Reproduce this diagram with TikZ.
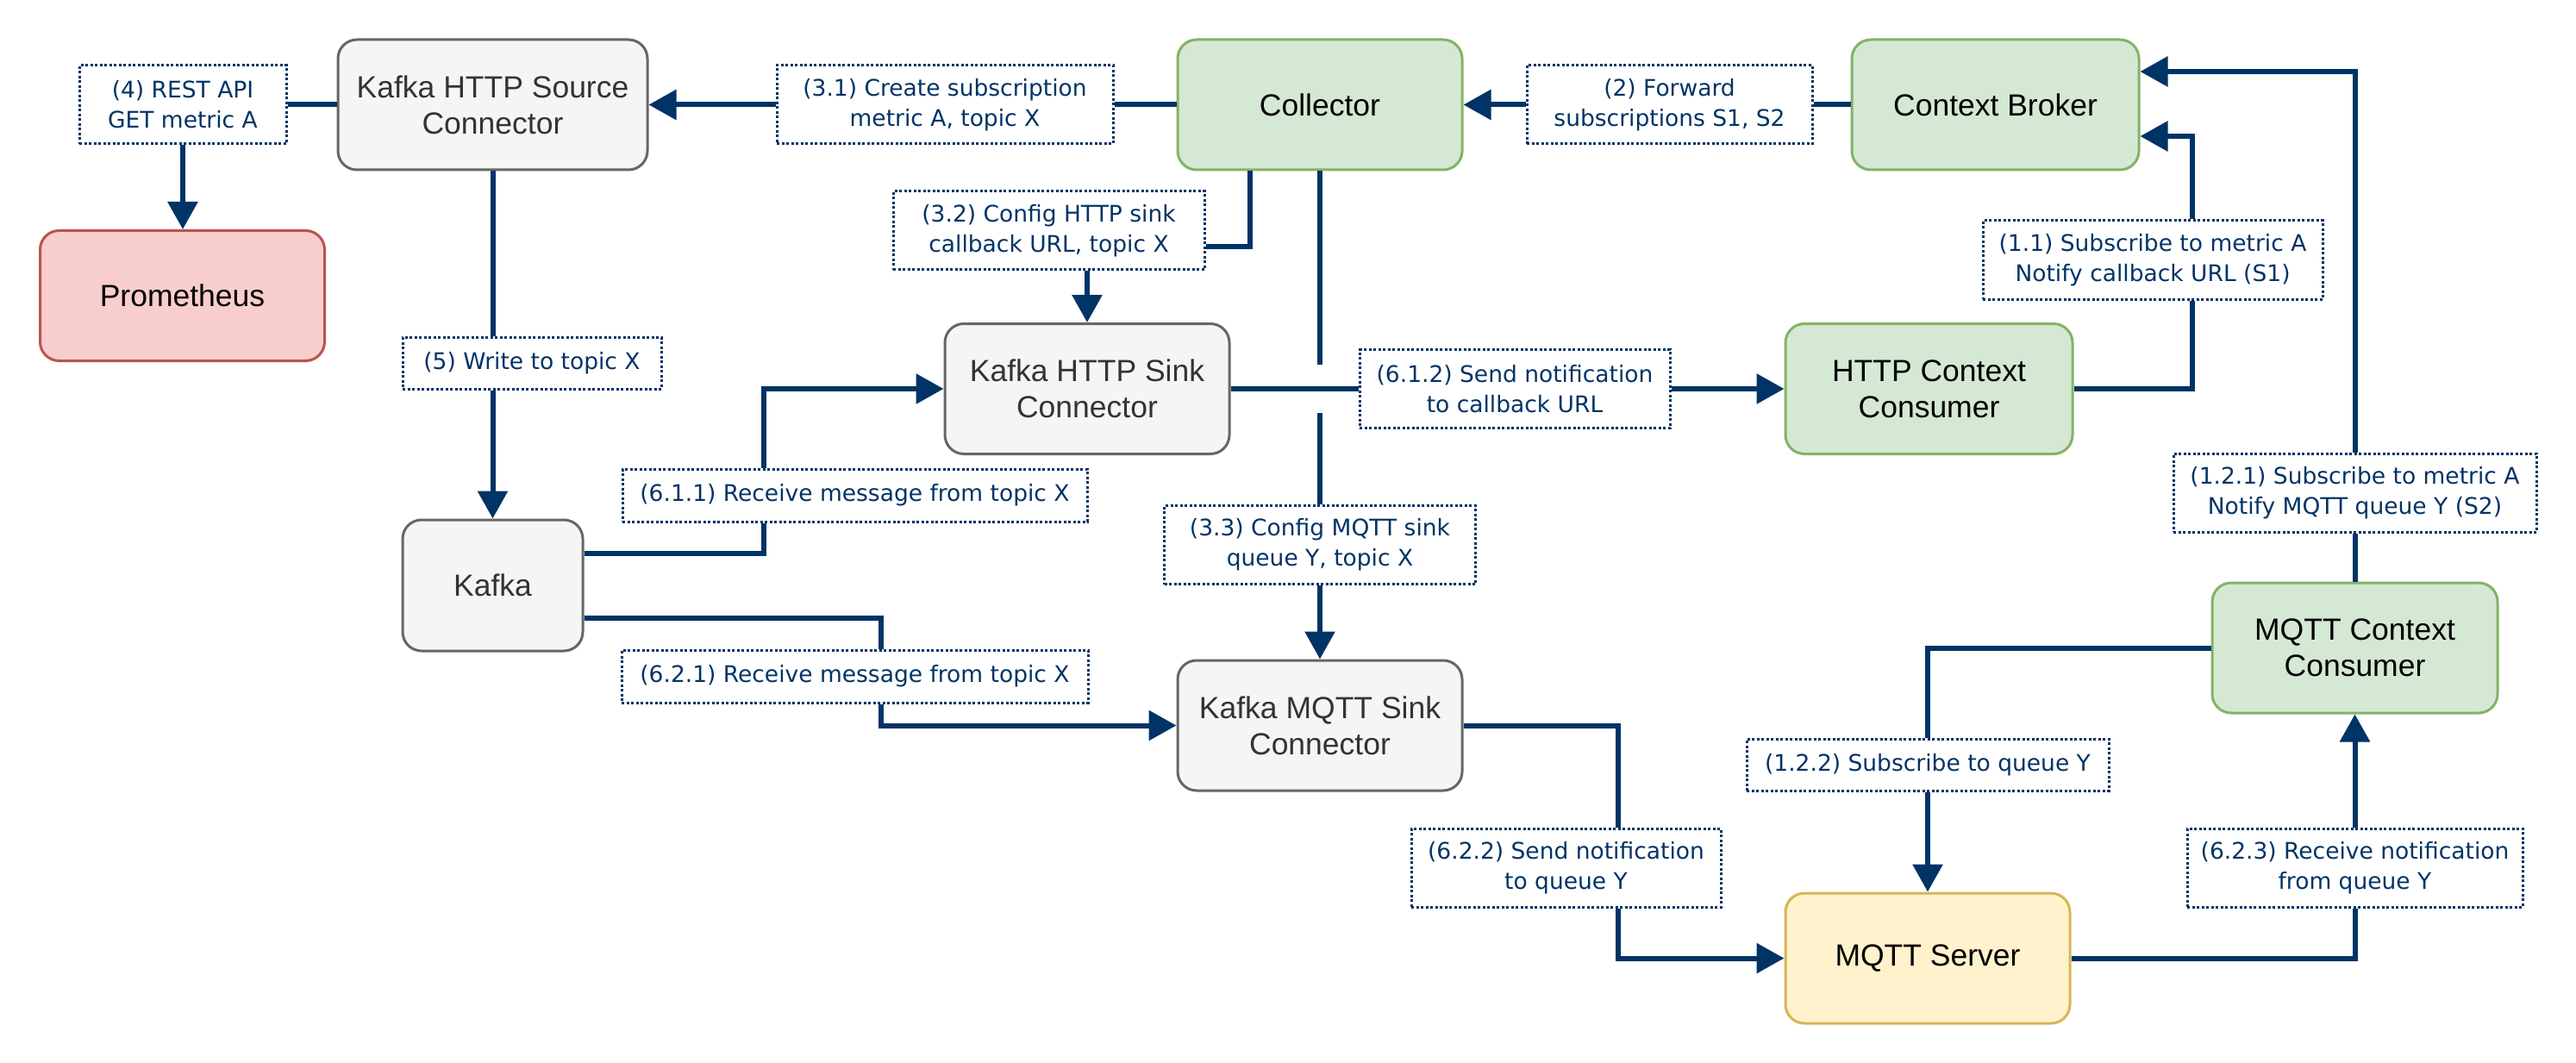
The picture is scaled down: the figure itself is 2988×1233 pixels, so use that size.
\documentclass[tikz,border=0pt]{standalone}
\usepackage{fontspec}
\setmainfont{Liberation Sans}
\newfontfamily\lblfont{DejaVu Sans}
\usetikzlibrary{arrows.meta}
\definecolor{navy}{HTML}{003366}
\definecolor{grayfill}{HTML}{F5F5F5}
\definecolor{graydraw}{HTML}{666666}
\definecolor{graytext}{HTML}{333333}
\definecolor{greenfill}{HTML}{D5E8D4}
\definecolor{greendraw}{HTML}{82B366}
\definecolor{redfill}{HTML}{F8CECC}
\definecolor{reddraw}{HTML}{B85450}
\definecolor{yelfill}{HTML}{FFF2CC}
\definecolor{yeldraw}{HTML}{D6B656}
\begin{document}
\begin{tikzpicture}[x=1pt,y=-1pt,
 box/.style={rectangle, rounded corners=22pt, line width=3pt, minimum width=330pt, minimum height=151pt, align=center, inner sep=0pt, font=\fontsize{35.5}{42}\selectfont},
 graybox/.style={box, fill=grayfill, draw=graydraw, text=graytext},
 greenbox/.style={box, fill=greenfill, draw=greendraw, text=black},
 redbox/.style={box, fill=redfill, draw=reddraw, text=black},
 yelbox/.style={box, fill=yelfill, draw=yeldraw, text=black},
 lbl/.style={rectangle, draw=navy, fill=white, line width=3pt, dash pattern=on 3pt off 2.5pt, text=navy, align=center, inner sep=0pt, minimum height=61pt, font=\lblfont\fontsize{26.5}{35}\selectfont},
 lbltwo/.style={lbl, minimum height=91pt},
 conn/.style={draw=navy, line width=6pt},
 arr/.style={conn, -{Triangle[length=32pt,width=34pt]}}
]
\useasboundingbox (0,0) rectangle (2988,1233);

% main boxes
\node[graybox, minimum width=359pt] (src) at (571.5,121.5) {Kafka HTTP Source\\Connector};
\node[redbox] (prom) at (211.5,343) {Prometheus};
\node[greenbox] (coll) at (1531,121.5) {Collector};
\node[greenbox, minimum width=333pt] (broker) at (2314.5,121.5) {Context Broker};
\node[graybox] (sink) at (1261,451) {Kafka HTTP Sink\\Connector};
\node[greenbox, minimum width=333pt] (hcons) at (2237.5,451) {HTTP Context\\Consumer};
\node[graybox, minimum width=209pt, minimum height=152pt] (kafka) at (571.5,679) {Kafka};
\node[graybox] (msink) at (1531,841.5) {Kafka MQTT Sink\\Connector};
\node[greenbox, minimum width=331pt] (mcons) at (2731.5,751.5) {MQTT Context\\Consumer};
\node[yelbox] (mserv) at (2236,1111.5) {MQTT Server};

% labels
\node[lbltwo, minimum width=240pt] (L4) at (212,121.5) {(4) REST API\\GET metric A};
\node[lbltwo, minimum width=390pt] (L31) at (1096,121.5) {(3.1) Create subscription\\metric A, topic X};
\node[lbltwo, minimum width=331pt] (L2) at (1936.5,121.5) {(2) Forward\\subscriptions S1, S2};
\node[lbltwo, minimum width=361pt] (L32) at (1216.5,267.5) {(3.2) Config HTTP sink\\callback URL, topic X};
\node[lbltwo, minimum width=394pt] (L11) at (2497,301.5) {(1.1) Subscribe to metric A\\Notify callback URL (S1)};
\node[lbl, minimum width=300pt, minimum height=60pt] (L5) at (617,421) {(5) Write to topic X};
\node[lbltwo, minimum width=360pt] (L612) at (1757,451) {(6.1.2) Send notification\\to callback URL};
\node[lbl, minimum width=539pt] (L611) at (991.5,574.5) {(6.1.1) Receive message from topic X};
\node[lbltwo, minimum width=361pt] (L33) at (1531,632) {(3.3) Config MQTT sink\\queue Y, topic X};
\node[lbltwo, minimum width=421pt] (L121) at (2731.5,571.5) {(1.2.1) Subscribe to metric A\\Notify MQTT queue Y (S2)};
\node[lbl, minimum width=541pt] (L621) at (991.5,784.5) {(6.2.1) Receive message from topic X};
\node[lbl, minimum width=420pt, minimum height=60pt] (L122) at (2236,887) {(1.2.2) Subscribe to queue Y};
\node[lbltwo, minimum width=359pt] (L622) at (1816.5,1006.5) {(6.2.2) Send notification\\to queue Y};
\node[lbltwo, minimum width=389pt] (L623) at (2731.5,1006.5) {(6.2.3) Receive notification\\from queue Y};

% bend coordinates
\coordinate (b4) at (1450,286);
\coordinate (j1) at (1531,423);
\coordinate (j2) at (1531,479);
\coordinate (b7a) at (886,642);
\coordinate (b7b) at (886,451);
\coordinate (b8a) at (1022,717);
\coordinate (b8b) at (1022,841.5);
\coordinate (b10a) at (2543,451);
\coordinate (b10b) at (2543,158);
\coordinate (b11) at (2731.5,83);
\coordinate (b12) at (2236,751.5);
\coordinate (b13a) at (1877,841.5);
\coordinate (b13b) at (1877,1111.5);
\coordinate (b14) at (2731.5,1111.5);

% connectors
\draw[conn] (src.west) -- (L4.east);
\draw[arr] (L4.south) -- (L4.south |- prom.north);
\draw[conn] (coll.west) -- (L31.east);
\draw[arr] (L31.west) -- (src.east);
\draw[conn] (broker.west) -- (L2.east);
\draw[arr] (L2.west) -- (coll.east);
\draw[conn] (b4 |- coll.south) -- (b4) -- (b4 -| L32.east);
\draw[arr] (L32.south -| sink.north) -- (sink.north);
\draw[conn] (coll.south) -- (j1);
\draw[conn] (j2) -- (L33.north);
\draw[arr] (L33.south) -- (msink.north);
\draw[conn] (src.south) -- (src.south |- L5.north);
\draw[arr] (L5.south -| kafka.north) -- (kafka.north);
\draw[conn] (kafka.east |- b7a) -- (b7a) -- (b7a |- L611.south);
\draw[arr] (b7a |- L611.north) -- (b7b) -- (sink.west);
\draw[conn] (kafka.east |- b8a) -- (b8a) -- (b8a |- L621.north);
\draw[arr] (b8a |- L621.south) -- (b8b) -- (msink.west);
\draw[conn] (sink.east) -- (L612.west);
\draw[arr] (L612.east) -- (hcons.west);
\draw[conn] (hcons.east) -- (b10a) -- (b10a |- L11.south);
\draw[arr] (b10a |- L11.north) -- (b10b) -- (b10b -| broker.east);
\draw[conn] (mcons.north) -- (L121.south);
\draw[arr] (L121.north) -- (b11) -- (b11 -| broker.east);
\draw[conn] (mcons.west) -- (b12) -- (L122.north);
\draw[arr] (L122.south) -- (mserv.north);
\draw[conn] (msink.east) -- (b13a) -- (b13a |- L622.north);
\draw[arr] (b13a |- L622.south) -- (b13b) -- (mserv.west);
\draw[conn] (mserv.east) -- (b14) -- (L623.south);
\draw[arr] (L623.north) -- (mcons.south);
\end{tikzpicture}
\end{document}
